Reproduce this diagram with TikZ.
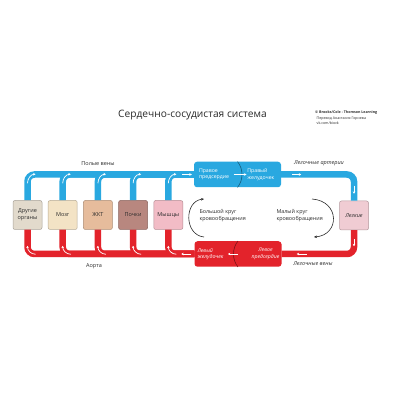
\documentclass[tikz,border=0pt]{standalone}
\usepackage{fontspec}
\setmainfont{Open Sans}
\usetikzlibrary{arrows.meta, positioning, calc}
\definecolor{pipeblue}{HTML}{29A8E0}
\definecolor{pipered}{HTML}{E3232B}
\definecolor{othergray}{HTML}{E2DACC}
\definecolor{brainbeige}{HTML}{F3E3C5}
\definecolor{gutpeach}{HTML}{E6BC9C}
\definecolor{kidneybrown}{HTML}{B8877F}
\definecolor{musclepink}{HTML}{F2BCC6}
\definecolor{lungpink}{HTML}{F0CCD3}
\definecolor{inkgray}{HTML}{2B2B2B}

\begin{document}
\begin{tikzpicture}[
    x=1pt, y=1pt,
    >=Stealth,
    node distance=5.7pt,
    organ/.style={draw=#1!75!black, fill=#1, rounded corners=2pt, minimum width=29pt, minimum height=29pt, inner sep=1pt, line width=0.5pt, font=\fontsize{5.5}{6.8}\selectfont, text=inkgray, align=center},
    heart/.style={fill=#1, rounded corners=3pt, minimum width=87pt, minimum height=25.5pt},
    pipe/.style={line width=6.5pt, color=#1, rounded corners=7pt},
    flow/.style={-{Stealth[length=2.4pt, width=2.6pt]}, white, line width=0.7pt},
    chamber/.style={text=white, font=\fontsize{5.2}{6.5}\selectfont, inner sep=0pt},
    vesselname/.style={font=\fontsize{5.5}{7}\selectfont, text=inkgray},
    loopdir/.style={-{Stealth[length=3pt, width=2.6pt]}, line width=0.6pt, color=inkgray},
    looptext/.style={font=\fontsize{5.4}{7}\selectfont, text=inkgray, align=left, anchor=west},
]
\fill[white] (0,0) rectangle (400,400);
\useasboundingbox (0,0) rectangle (400,400);

% Title and credits
\node[font=\fontsize{10.2}{12}\selectfont, text=inkgray] (title) at (192.5,285) {Сердечно-сосудистая система};
\node[font=\fontsize{3.6}{4.2}\selectfont\bfseries, text=inkgray, anchor=west, inner sep=0pt] (credit) at (315,287) {© Brooks/Cole - Thomson Learning};
\node[font=\fontsize{3.6}{4.4}\selectfont, text=inkgray, anchor=north west, align=left, inner sep=0pt] (translator) at (316.5,283) {Перевод Анастасия Горнева\\vk.com/biovk};

% Organs
\node[organ=othergray] (other) at (27.5,185) {Другие\\органы};
\node[organ=brainbeige, right=of other] (brain) {Мозг};
\node[organ=gutpeach, right=of brain] (gut) {ЖКТ};
\node[organ=kidneybrown, right=of gut] (kidney) {Почки};
\node[organ=musclepink, right=of kidney] (muscle) {Мышцы};
\node[organ=lungpink, font=\fontsize{5.5}{7}\selectfont\itshape] (lungs) at (354,184.5) {Легкие};

% Heart
\node[heart=pipeblue] (rheart) at (237.5,225.5) {};
\node[heart=pipered] (lheart) at (238,146) {};
\draw[pipeblue!55!black, line width=0.6pt] (rheart.north) .. controls (243.5,231) and (243.5,220) .. (rheart.south);
\draw[pipered!55!black, line width=0.6pt] (lheart.north) .. controls (232,152) and (232,140) .. (lheart.south);
\node[chamber, align=left, anchor=west] (ratrium) at ([xshift=5pt]rheart.west) {Правое\\предсердие};
\node[chamber, align=left, anchor=west] (rventricle) at ([xshift=-34pt]rheart.east) {Правый\\желудочек};
\node[chamber, align=left, anchor=west, font=\fontsize{5.2}{6.5}\selectfont\itshape] (lventricle) at ([xshift=3pt]lheart.west) {Левый\\желудочек};
\node[chamber, align=center, anchor=east, font=\fontsize{5.2}{6.5}\selectfont\itshape] (latrium) at ([xshift=-2pt]lheart.east) {Левое\\предсердие};

% Veins (blue)
\draw[pipe=pipeblue] (other.north) |- (rheart.west);
\draw[pipe=pipeblue] (brain.north) |- (rheart.west);
\draw[pipe=pipeblue] (gut.north) |- (rheart.west);
\draw[pipe=pipeblue] (kidney.north) |- (rheart.west);
\draw[pipe=pipeblue] (muscle.north) |- (rheart.west);
\draw[pipe=pipeblue] (rheart.east) -| (lungs.north);

% Arteries (red)
\draw[pipe=pipered] (other.south) |- (lheart.west);
\draw[pipe=pipered] (brain.south) |- (lheart.west);
\draw[pipe=pipered] (gut.south) |- (lheart.west);
\draw[pipe=pipered] (kidney.south) |- (lheart.west);
\draw[pipe=pipered] (muscle.south) |- (lheart.west);
\draw[pipe=pipered] (lungs.south) |- (lheart.east);

% Flow direction
\foreach \o in {other, brain, gut, kidney, muscle} {
  \draw[flow] ([yshift=17pt]\o.north) to[out=90, in=180] ([xshift=8pt, yshift=26pt]\o.north);
  \draw[flow] ([xshift=8pt, yshift=-24.5pt]\o.south) to[out=180, in=-90] ([yshift=-16pt]\o.south);
}
\draw[flow] ([xshift=-12pt]rheart.west) -- ([xshift=-2pt]rheart.west);
\draw[flow] ([xshift=-4pt]rheart.center) -- ([xshift=9pt]rheart.center);
\draw[flow] ([xshift=11pt]rheart.east) -- ([xshift=20pt]rheart.east);
\draw[flow] ([yshift=15pt]lungs.north) -- ([yshift=7pt]lungs.north);
\draw[flow] ([yshift=-9pt]lungs.south) -- ([yshift=-16pt]lungs.south);
\draw[flow] ([xshift=25pt]lheart.east) -- ([xshift=15pt]lheart.east);
\draw[flow] ([xshift=0pt]lheart.center) -- ([xshift=-10pt]lheart.center);
\draw[flow] ([xshift=-3pt]lheart.west) -- ([xshift=-13pt]lheart.west);

% Vessel names
\node[vesselname] (cava) at (98,236) {Полые вены};
\node[vesselname] (aorta) at (94,134) {Аорта};
\node[vesselname, font=\fontsize{5.5}{7}\selectfont\itshape] (partery) at (319,237) {Легочные артерии};
\node[vesselname, font=\fontsize{5.5}{7}\selectfont\itshape] (pvein) at (313,136) {Легочные вены};

% Circulation loops
\coordinate (bigtop) at (204,201);
\coordinate (bigbottom) at (204,163);
\coordinate (smalltop) at (312,201);
\coordinate (smallbottom) at (314,163);
\draw[loopdir] (bigbottom) .. controls (184,165) and (184,199) .. (bigtop);
\draw[loopdir] (smalltop) .. controls (340,199) and (340,165) .. (smallbottom);
\node[looptext] (bigloop) at (196,184) {Большой круг\\кровообращения};
\node[looptext] (smallloop) at (273,184) {Малый круг\\кровообращения};

\end{tikzpicture}
\end{document}
